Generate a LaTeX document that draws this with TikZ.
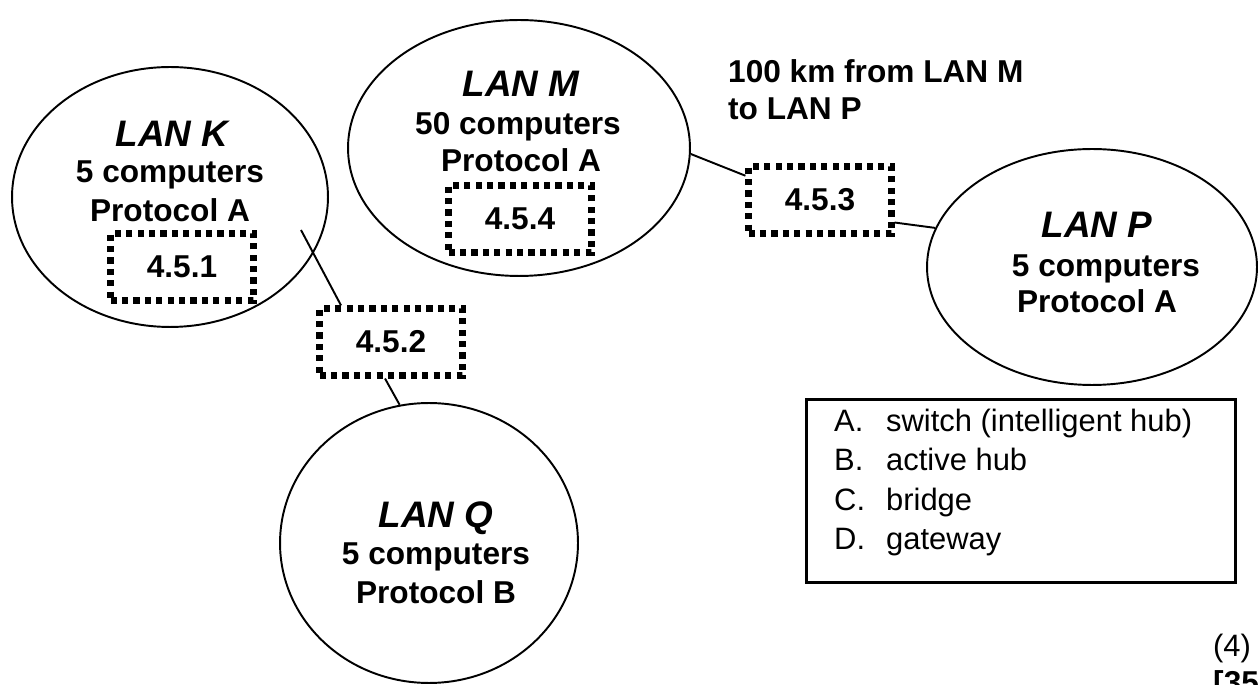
\documentclass[tikz,border=0pt]{standalone}
\usepackage{fontspec}
\setmainfont{Liberation Sans}
\usetikzlibrary{shapes.geometric}

\tikzset{
    lan/.style={draw,ellipse,line width=1.1pt,inner sep=0pt},
    lantitle/.style={anchor=base,font=\fontsize{21}{25}\selectfont\bfseries\itshape},
    laninfo/.style={anchor=base,font=\fontsize{18}{21}\selectfont\bfseries},
    devbox/.style={draw,line width=3.5pt,dash pattern=on 3.5pt off 3pt,minimum width=2.86cm,minimum height=1.34cm,inner sep=0pt,font=\fontsize{18}{21}\selectfont\bfseries},
    link/.style={line width=1.1pt},
    keyline/.style={anchor=base west,font=\fontsize{17.6}{21}\selectfont}
}

\begin{document}
\begin{tikzpicture}[x=0.02cm,y=-0.02cm]
  \useasboundingbox (0,0) rectangle (1258,685);

  % the four LANs
  \node[lan,minimum width=6.32cm,minimum height=5.2cm] (lanK) at (170,197) {};
  \node[lan,minimum width=6.84cm,minimum height=5.12cm] (lanM) at (519,148) {};
  \node[lan,minimum width=6.6cm,minimum height=4.72cm] (lanP) at (1092,267) {};
  \node[lan,minimum width=5.96cm,minimum height=5.6cm] (lanQ) at (429,543) {};

  \node[lantitle] (kTitle) at (172,147) {LAN K};
  \node[laninfo] (kComp) at (170,183) {5 computers};
  \node[laninfo] (kProt) at (170,222) {Protocol A};

  \node[lantitle] (mTitle) at (521,97) {LAN M};
  \node[laninfo] (mComp) at (518,135) {50 computers};
  \node[laninfo] (mProt) at (521,172) {Protocol A};

  \node[lantitle] (pTitle) at (1097,238) {LAN P};
  \node[laninfo] (pComp) at (1106,277) {5 computers};
  \node[laninfo] (pProt) at (1097,313) {Protocol A};

  \node[lantitle] (qTitle) at (436,528) {LAN Q};
  \node[laninfo] (qComp) at (436,565) {5 computers};
  \node[laninfo] (qProt) at (436,603) {Protocol B};

  % devices to choose
  \node[devbox] (b451) at (182,267) {4.5.1};
  \node[devbox] (b452) at (391,342) {4.5.2};
  \node[devbox] (b453) at (820,200) {4.5.3};
  \node[devbox] (b454) at (520,219) {4.5.4};

  \coordinate (kIn) at (301,230);
  \draw[link] (kIn) -- ([xshift=14pt]b452.north west);
  \draw[link] ([xshift=-3.4pt]b452.south) -- (lanQ.102);
  \draw[link] (lanM.-2) -- ([yshift=-7pt]b453.north west);
  \draw[link] ([yshift=8pt]b453.south east) -- (lanP.166);

  \node[anchor=base west,align=left,font=\fontsize{18}{21.5}\selectfont\bfseries] (dist) at (722,120) {100 km from LAN M\\to LAN P};

  % legend
  \node[draw,line width=1.7pt,minimum width=8.58cm,minimum height=3.68cm] (legend) at (1021,491) {};
  \node[keyline] (keyA) at (828,432) {\makebox[1.04cm][l]{A.}switch (intelligent hub)};
  \node[keyline] (keyB) at (828,471) {\makebox[1.04cm][l]{B.}active hub};
  \node[keyline] (keyC) at (828,511) {\makebox[1.04cm][l]{C.}bridge};
  \node[keyline] (keyD) at (828,550) {\makebox[1.04cm][l]{D.}gateway};

  % marks
  \node[anchor=base east,font=\fontsize{17.6}{21}\selectfont] (marks) at (1257,657) {(4)};
  \node[anchor=base west,font=\fontsize{18}{21}\selectfont\bfseries] (total) at (1207,693) {[35]};
\end{tikzpicture}
\end{document}
